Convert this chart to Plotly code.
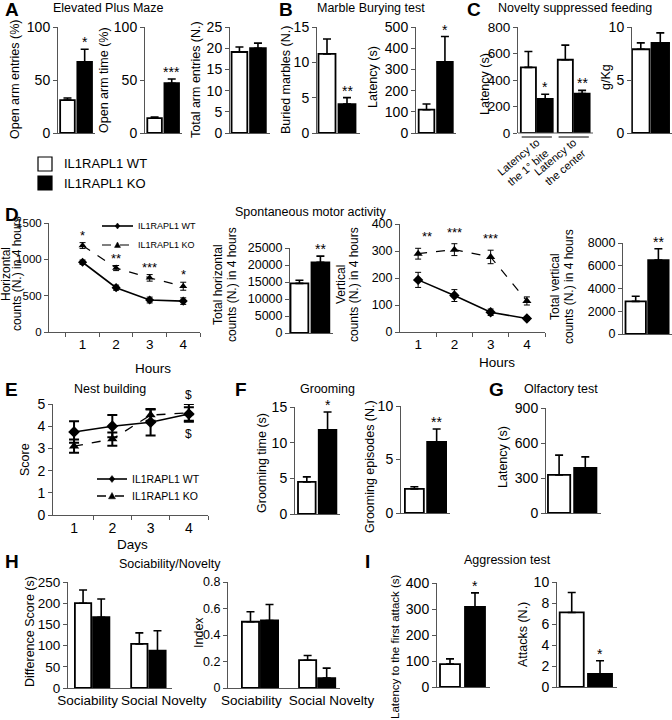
import plotly.graph_objects as go

# ---------------- data ----------------
groups = ["IL1RAPL1 WT", "IL1RAPL1 KO"]

epm_entries = [31, 67]
epm_entries_err = [2, 12]
epm_time = [14, 47]
epm_time_err = [1, 4]
epm_total = [19.1, 20.0]
epm_total_err = [1.2, 1.2]

marbles_buried = [11.2, 4.1]
marbles_buried_err = [2.1, 0.9]
marbles_latency = [110, 335]
marbles_latency_err = [27, 120]

nsf_cats = ["Latency to<br>the 1° bite", "Latency to<br>the center"]
nsf_wt = [495, 553]
nsf_wt_err = [120, 110]
nsf_ko = [257, 297]
nsf_ko_err = [35, 25]
nsf_food = [7.9, 8.5]
nsf_food_err = [0.6, 0.95]

hours = [1, 2, 3, 4]
horiz_wt = [960, 610, 440, 425]
horiz_wt_err = [30, 35, 40, 45]
horiz_ko = [1190, 880, 745, 630]
horiz_ko_err = [40, 35, 45, 55]
horiz_total = [14600, 20800]
horiz_total_err = [900, 1800]
vert_wt = [193, 135, 73, 50]
vert_wt_err = [28, 22, 12, 7]
vert_ko = [290, 305, 278, 115]
vert_ko_err = [20, 22, 25, 15]
vert_total = [2870, 6500]
vert_total_err = [450, 1000]

days = [1, 2, 3, 4]
nest_wt = [3.74, 4.0, 4.18, 4.55]
nest_wt_err = [0.48, 0.5, 0.6, 0.3]
nest_ko = [3.1, 3.42, 4.5, 4.6]
nest_ko_err = [0.3, 0.3, 0.25, 0.4]

groom_time = [4.5, 11.8]
groom_time_err = [0.7, 2.5]
groom_episodes = [2.25, 6.65]
groom_episodes_err = [0.2, 1.2]

olfactory = [326, 386]
olfactory_err = [170, 95]

soc_cats = ["Sociability", "Social Novelty"]
diff_wt = [200, 104]
diff_wt_err = [31, 26]
diff_ko = [167, 88]
diff_ko_err = [43, 47]
index_wt = [0.50, 0.21]
index_wt_err = [0.075, 0.035]
index_ko = [0.51, 0.075]
index_ko_err = [0.12, 0.075]

agg_latency = [88, 308]
agg_latency_err = [20, 54]
agg_attacks = [7.1, 1.25]
agg_attacks_err = [1.9, 1.25]

# ---------------- helpers ----------------
W, H = 672, 720
FONT = "Arial, Liberation Sans, sans-serif"
AX = "#555555"
TICKF = 14
LABF = 12.5

fig = go.Figure()
layout = {}
annotations = []
shapes = []
n_axes = [0]


def X(p):
    return p / W


def Y(p):
    return 1 - p / H


def panel(left, right, top, bottom, xr, yr, ytv, ytt=None, xtv=None, xtt=None,
          xangle=0, xfont=TICKF, minor=None, yfont=TICKF, xline=True):
    n_axes[0] += 1
    n = n_axes[0]
    s = "" if n == 1 else str(n)
    xa = dict(domain=[X(left), X(right)], range=xr, anchor="y" + s, showline=xline,
              linecolor=AX, linewidth=1, showgrid=False, zeroline=False, ticks="",
              automargin=False, fixedrange=True,
              showticklabels=xtv is not None, tickfont=dict(size=xfont, color="black"))
    if xtv is not None:
        xa["tickmode"] = "array"
        xa["tickvals"] = xtv
        xa["ticktext"] = xtt
        xa["tickangle"] = xangle
    if minor is not None:
        xa["minor"] = dict(tickmode="array", tickvals=minor, ticks="outside", ticklen=4,
                           tickcolor=AX, tickwidth=1)
    ya = dict(domain=[Y(bottom), Y(top)], range=yr, anchor="x" + s, showline=True,
              linecolor=AX, linewidth=1, showgrid=False, zeroline=False, ticks="outside",
              ticklen=4, tickcolor=AX, tickmode="array", tickvals=ytv,
              automargin=False, fixedrange=True,
              ticktext=ytt if ytt is not None else [str(v) for v in ytv],
              tickfont=dict(size=yfont, color="black"))
    layout["xaxis" + s] = xa
    layout["yaxis" + s] = ya
    return "x" + s, "y" + s


def bar_pair(xa, ya, vals, errs, width=0.85):
    fig.add_trace(go.Bar(
        x=list(range(len(vals))), y=vals, width=width,
        marker=dict(color=["white", "black"], line=dict(color="black", width=1.8)),
        error_y=dict(type="data", array=errs, arrayminus=[0] * len(vals), symmetric=False,
                     color="black", thickness=1.6, width=4),
        xaxis=xa, yaxis=ya, showlegend=False, hoverinfo="skip"))


def bar_groups(xa, ya, wt, wt_err, ko, ko_err, spacing, width=0.9):
    xs_wt = [i * spacing for i in range(len(wt))]
    xs_ko = [i * spacing + 1 for i in range(len(ko))]
    for xs, v, e, c in [(xs_wt, wt, wt_err, "white"), (xs_ko, ko, ko_err, "black")]:
        fig.add_trace(go.Bar(
            x=xs, y=v, width=width,
            marker=dict(color=c, line=dict(color="black", width=1.8)),
            error_y=dict(type="data", array=e, arrayminus=[0] * len(v), symmetric=False,
                         color="black", thickness=1.6, width=4),
            xaxis=xa, yaxis=ya, showlegend=False, hoverinfo="skip"))
    return xs_wt, xs_ko


def star(xa, ya, x, y, s, shift=-3, size=14):
    annotations.append(dict(x=x, y=y, xref=xa, yref=ya, text=s, showarrow=False,
                            yanchor="bottom", yshift=shift,
                            font=dict(size=size, color="black", family=FONT)))


def txt(x, y, s, size=LABF, angle=0, bold=False, xanchor="center", yanchor="middle",
        family=FONT):
    annotations.append(dict(x=X(x), y=Y(y), xref="paper", yref="paper",
                            text=("<b>%s</b>" % s) if bold else s, showarrow=False,
                            textangle=angle, xanchor=xanchor, yanchor=yanchor,
                            font=dict(size=size, color="black", family=family)))


def line(xa, ya, x, y, err, symbol, dash, msize, lw, ew, ecap):
    fig.add_trace(go.Scatter(
        x=x, y=y, mode="lines+markers",
        line=dict(color="black", width=lw, dash=dash),
        marker=dict(symbol=symbol, size=msize, color="black"),
        error_y=dict(type="data", array=err, color="black", thickness=ew, width=ecap),
        xaxis=xa, yaxis=ya, showlegend=False, hoverinfo="skip"))


def legend_item(x0, x1, y, dash, marker, msize, label, fsize, lw):
    shapes.append(dict(type="line", xref="paper", yref="paper", x0=X(x0), x1=X(x1),
                       y0=Y(y), y1=Y(y), line=dict(color="black", width=lw, dash=dash)))
    cx = (x0 + x1) / 2
    r = msize / 2
    if marker == "diamond":
        pts = [(cx, y - r), (cx + r * 0.8, y), (cx, y + r), (cx - r * 0.8, y)]
    else:
        pts = [(cx, y - r), (cx + r, y + r * 0.8), (cx - r, y + r * 0.8)]
    path = "M " + " L ".join("%f,%f" % (X(px), Y(py)) for px, py in pts) + " Z"
    shapes.append(dict(type="path", xref="paper", yref="paper", path=path,
                       fillcolor="black", line=dict(color="black", width=0.5)))
    txt(x1 + 3, y, label, size=fsize, xanchor="left")


# ---------------- Panel A ----------------
xa, ya = panel(58, 95, 27, 133, [-0.55, 1.6], [0, 100], [0, 50, 100])
bar_pair(xa, ya, epm_entries, epm_entries_err)
star(xa, ya, 1, epm_entries[1] + epm_entries_err[1], "*")

xa, ya = panel(145, 182, 27, 133, [-0.56, 1.6], [0, 100], [0, 50, 100])
bar_pair(xa, ya, epm_time, epm_time_err)
star(xa, ya, 1, epm_time[1] + epm_time_err[1], "***")

xa, ya = panel(230, 270, 27, 133, [-0.51, 1.65], [0, 25], [0, 5, 10, 15, 20, 25])
bar_pair(xa, ya, epm_total, epm_total_err)

# ---------------- Panel B ----------------
xa, ya = panel(317, 360, 27, 133, [-0.5, 1.65], [0, 15], [0, 5, 10, 15])
bar_pair(xa, ya, marbles_buried, marbles_buried_err)
star(xa, ya, 1, marbles_buried[1] + marbles_buried_err[1], "**")

xa, ya = panel(416, 456, 27, 133, [-0.57, 1.6], [0, 500], [0, 100, 200, 300, 400, 500])
bar_pair(xa, ya, marbles_latency, marbles_latency_err)
star(xa, ya, 1, marbles_latency[1] + marbles_latency_err[1], "*")

# ---------------- Panel C ----------------
sp = 2.2
xa, ya = panel(518, 593, 27, 133, [-0.62, 3.85], [0, 800], [0, 200, 400, 600, 800],
               xtv=[i * sp + 0.5 for i in range(len(nsf_cats))], xtt=nsf_cats,
               xangle=-40, xfont=11, xline=False, yfont=13.5)
xs_wt, xs_ko = bar_groups(xa, ya, nsf_wt, nsf_wt_err, nsf_ko, nsf_ko_err, sp)
for i in range(len(nsf_cats)):
    star(xa, ya, xs_ko[i], nsf_ko[i] + nsf_ko_err[i], ["*", "**"][i])
    shapes.append(dict(type="line", xref=xa, yref="paper", x0=xs_wt[i] - 0.4,
                       x1=xs_ko[i] + 0.4, y0=Y(137), y1=Y(137),
                       line=dict(color="black", width=1)))
shapes.append(dict(type="line", xref="paper", yref="paper", x0=X(518), x1=X(593),
                   y0=Y(133), y1=Y(133), line=dict(color=AX, width=1)))

xa, ya = panel(632, 672, 27, 133, [-0.45, 1.6], [0, 10], [0, 5, 10])
bar_pair(xa, ya, nsf_food, nsf_food_err, width=0.9)

# ---------------- Panel D ----------------
DF = 12.5
xa, ya = panel(49, 200, 223, 332, [0, 4.5], [0, 1500], [0, 500, 1000, 1500],
               xtv=hours, xtt=[str(h) for h in hours], minor=[0.5, 1.5, 2.5, 3.5, 4.5],
               yfont=11.5, xfont=13.5)
line(xa, ya, hours, horiz_wt, horiz_wt_err, "diamond", "solid", 7, 1.6, 1, 3)
line(xa, ya, hours, horiz_ko, horiz_ko_err, "triangle-up", "dash", 7, 1.2, 1, 3)
for i, s in enumerate(["*", "**", "***", "*"]):
    star(xa, ya, hours[i], horiz_ko[i] + horiz_ko_err[i], s, shift=-2, size=13)
legend_item(102, 133, 226, "solid", "diamond", 6, groups[0], 9, 1.6)
legend_item(102, 133, 245, "dash", "triangle", 6, groups[1], 9, 1.2)

xa, ya = panel(290, 333, 248, 333, [-0.45, 1.6], [0, 25000],
               [0, 5000, 10000, 15000, 20000, 25000], yfont=DF)
bar_pair(xa, ya, horiz_total, horiz_total_err, width=0.85)
star(xa, ya, 1, horiz_total[1] + horiz_total_err[1], "**")

xa, ya = panel(400, 545, 224, 332, [0.5, 4.5], [0, 400], [0, 100, 200, 300, 400],
               xtv=hours, xtt=[str(h) for h in hours], minor=[1.5, 2.5, 3.5, 4.5],
               yfont=DF, xfont=13.5)
line(xa, ya, hours, vert_wt, vert_wt_err, "diamond", "solid", 8, 1.6, 1, 3)
line(xa, ya, hours, vert_ko, vert_ko_err, "triangle-up", "dash", 8, 1.2, 1, 3)
for i, s in enumerate(["**", "***", "***"]):
    star(xa, ya, hours[i] + (0.25 if i == 0 else 0), vert_ko[i] + vert_ko_err[i] + 15, s,
         shift=-2, size=13)

xa, ya = panel(623, 672, 243, 334, [-0.56, 1.6], [0, 8000], [0, 2000, 4000, 6000, 8000],
               yfont=DF)
bar_pair(xa, ya, vert_total, vert_total_err, width=0.9)
star(xa, ya, 1, vert_total[1] + vert_total_err[1], "**")

# ---------------- Panel E ----------------
xa, ya = panel(53, 208, 404, 515, [0.45, 4.5], [0, 5], [0, 1, 2, 3, 4, 5],
               xtv=days, xtt=[str(d) for d in days], minor=[1.5, 2.5, 3.5, 4.5])
line(xa, ya, days, nest_wt, nest_wt_err, "diamond", "solid", 9, 1.6, 2, 5)
line(xa, ya, days, nest_ko, nest_ko_err, "triangle-up", "dash", 9, 1.3, 2, 5)
annotations.append(dict(x=4, y=5.0, xref=xa, yref=ya, text="&#36;", showarrow=False,
                        yanchor="bottom", font=dict(size=12, color="black", family=FONT)))
annotations.append(dict(x=4, y=4.05, xref=xa, yref=ya, text="&#36;", showarrow=False,
                        yanchor="top", font=dict(size=12, color="black", family=FONT)))
legend_item(97, 127, 479, "solid", "diamond", 7, groups[0], 10.5, 1.6)
legend_item(97, 127, 496, "dash", "triangle", 7, groups[1], 10.5, 1.3)

# ---------------- Panel F ----------------
xa, ya = panel(295, 340, 407, 514, [-0.57, 1.6], [0, 15], [0, 5, 10, 15])
bar_pair(xa, ya, groom_time, groom_time_err)
star(xa, ya, 1, groom_time[1] + groom_time_err[1], "*")

xa, ya = panel(401, 450, 406, 513, [-0.6, 1.6], [0, 10], [0, 5, 10])
bar_pair(xa, ya, groom_episodes, groom_episodes_err)
star(xa, ya, 1, groom_episodes[1] + groom_episodes_err[1], "**")

# ---------------- Panel G ----------------
xa, ya = panel(546, 601, 408, 513, [-0.5, 1.6], [0, 900], [0, 300, 600, 900])
bar_pair(xa, ya, olfactory, olfactory_err)

# ---------------- Panel H ----------------
sp = 3.1
xa, ya = panel(68, 172, 582, 688, [-0.83, 4.9], [0, 250], [0, 50, 100, 150, 200, 250],
               xtv=[0.25, 4.45], xtt=soc_cats, xfont=13.5, yfont=13.5)
bar_groups(xa, ya, diff_wt, diff_wt_err, diff_ko, diff_ko_err, sp)

sp = 3.0
xa, ya = panel(228, 340, 582, 688, [-1.18, 4.7], [0, 0.8], [0, 0.2, 0.4, 0.6, 0.8],
               ytt=["0", "0.2", "0.4", "0.6", "0.8"], yfont=12.5,
               xtv=[0.05, 4.25], xtt=soc_cats, xfont=13.5)
bar_groups(xa, ya, index_wt, index_wt_err, index_ko, index_ko_err, sp)

# ---------------- Panel I ----------------
xa, ya = panel(437, 490, 583, 687, [-0.52, 1.6], [0, 400], [0, 100, 200, 300, 400])
bar_pair(xa, ya, agg_latency, agg_latency_err, width=0.8)
star(xa, ya, 1, agg_latency[1] + agg_latency_err[1], "*")

xa, ya = panel(557, 617, 582, 687, [-0.52, 1.6], [0, 10], [0, 2, 4, 6, 8, 10])
bar_pair(xa, ya, agg_attacks, agg_attacks_err)
star(xa, ya, 1, agg_attacks[1] + agg_attacks_err[1], "*")

# ---------------- texts ----------------
for letter, x, y in [("A", 3, 10), ("B", 277, 10), ("C", 465, 10), ("D", 3, 214),
                     ("E", 3, 389), ("F", 233, 389), ("G", 487, 389), ("H", 3, 561),
                     ("I", 363, 561)]:
    txt(x, y, letter, size=19, bold=True, xanchor="left")

txt(108, 8, "Elevated Plus Maze")
txt(371, 8, "Marble Burying test")
txt(575, 8, "Novelty suppressed feeding")
txt(311, 212, "Spontaneous motor activity")
txt(110, 389, "Nest building")
txt(327, 389, "Grooming")
txt(561, 389, "Olfactory test")
txt(170, 564, "Sociability/Novelty")
txt(507, 560, "Aggression test")

# y-axis labels
txt(15, 80, "Open arm entries (%)", angle=-90)
txt(104, 80, "Open arm time (%)", angle=-90)
txt(196, 80, "Total arm entries (N.)", angle=-90)
txt(286, 80, "Buried marbles (N.)", angle=-90)
txt(373, 77, "Latency (s)", angle=-90)
txt(485, 84, "Latency (s)", angle=-90)
txt(606, 77, "g/Kg", angle=-90)
# two-line labels, one annotation per line
for x1, x2, y, l1 in [(6, 17, 274, "Horizontal"), (218, 232, 285, "Total horizontal"),
                      (341, 354, 285, "Vertical"), (555, 569, 287, "Total vertical")]:
    txt(x1, y, l1, size=12, angle=-90)
    txt(x2, y, "counts (N.) in 4 hours", size=12, angle=-90)
txt(25, 460, "Score", angle=-90)
txt(262, 463, "Grooming time (s)", angle=-90)
txt(370, 467, "Grooming episodes (N.)", angle=-90)
txt(503, 457, "Latency (s)", angle=-90)
txt(30, 632, "Difference Score (s)", angle=-90)
txt(199, 633, "Index", angle=-90)
txt(395, 647, "Latency to the first attack (s)", size=11.5, angle=-90)
txt(523, 635, "Attacks (N.)", angle=-90)

# x-axis titles
txt(153, 369, "Hours", size=13.5)
txt(497, 362, "Hours", size=13.5)
txt(132, 544, "Days", size=13.5)

# group legend (squares)
shapes.append(dict(type="rect", xref="paper", yref="paper", x0=X(38), x1=X(52),
                   y0=Y(171), y1=Y(157), line=dict(color="black", width=1.2),
                   fillcolor="white"))
shapes.append(dict(type="rect", xref="paper", yref="paper", x0=X(38), x1=X(52),
                   y0=Y(190), y1=Y(176), line=dict(color="black", width=1.2),
                   fillcolor="black"))
txt(62, 164, groups[0], size=13, xanchor="left")
txt(62, 183, groups[1], size=13, xanchor="left")

layout.update(
    template="none",
    width=W, height=H, margin=dict(l=0, r=0, t=0, b=0, autoexpand=False),
    paper_bgcolor="white", plot_bgcolor="white",
    font=dict(family=FONT, color="black", size=13),
    barmode="overlay", showlegend=False,
    annotations=annotations, shapes=shapes,
)
fig.update_layout(**layout)
fig.write_html("out.html", config={"displayModeBar": False},
               post_script="document.body.style.margin='0px';"
                           "document.body.style.overflow='hidden';")
